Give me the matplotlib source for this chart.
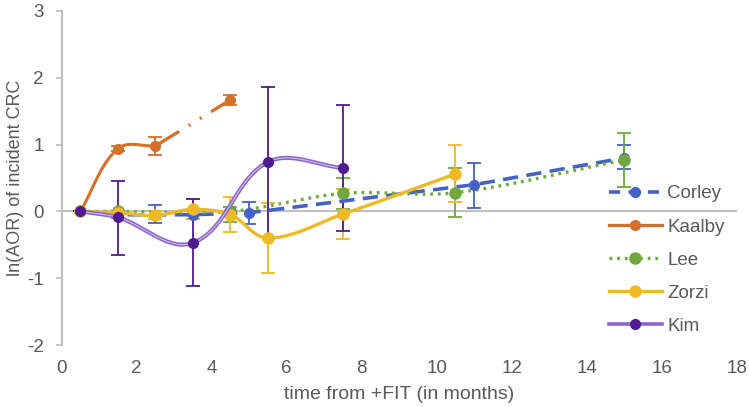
import matplotlib
matplotlib.use("Agg")
import matplotlib.pyplot as plt
import numpy as np
from matplotlib.lines import Line2D

# data
corley_x = [0.5, 1.5, 2.5, 3.5, 5.0, 11.0, 15.0]
corley_y = [0.0, -0.05, -0.05, -0.05, -0.02, 0.40, 0.80]
corley_lo = [0.0, 0.05, 0.13, 0.07, 0.17, 0.35, 0.17]
corley_hi = [0.0, 0.05, 0.14, 0.07, 0.16, 0.33, 0.19]

kaalby_x = [0.5, 1.5, 2.5, 4.5]
kaalby_y = [0.0, 0.94, 0.98, 1.67]
kaalby_lo = [0.0, 0.04, 0.14, 0.07]
kaalby_hi = [0.0, 0.04, 0.14, 0.07]

lee_x = [0.5, 1.5, 4.5, 7.5, 10.5, 15.0]
lee_y = [0.0, 0.0, 0.0, 0.27, 0.28, 0.77]
lee_lo = [0.0, 0.0, 0.16, 0.23, 0.37, 0.40]
lee_hi = [0.0, 0.0, 0.07, 0.23, 0.37, 0.41]

zorzi_x = [0.5, 1.5, 2.5, 3.5, 4.5, 5.5, 7.5, 10.5]
zorzi_y = [0.0, -0.02, -0.06, 0.03, -0.05, -0.40, -0.04, 0.56]
zorzi_lo = [0.0, 0.0, 0.06, 0.15, 0.26, 0.52, 0.38, 0.42]
zorzi_hi = [0.0, 0.0, 0.06, 0.15, 0.27, 0.52, 0.38, 0.43]

kim_x = [0.5, 1.5, 3.5, 5.5, 7.5]
kim_y = [0.0, -0.09, -0.47, 0.74, 0.65]
kim_lo = [0.0, 0.56, 0.64, 1.12, 0.95]
kim_hi = [0.0, 0.55, 0.65, 1.12, 0.95]

x_ticks = [0, 2, 4, 6, 8, 10, 12, 14, 16, 18]
y_ticks = [-2, -1, 0, 1, 2, 3]

BLUE = "#4562c6"
ORANGE = "#d2702c"
GREEN = "#70a83c"
YELLOW = "#efb925"
PURPLE = "#4f1c8f"
KIM_LINE = "#8d67c8"
KIM_INNER = "#cdb9ea"
GRID = "#bfbfbf"
TEXT = "#595959"

plt.rcParams["font.family"] = ["Liberation Sans", "DejaVu Sans"]
plt.rcParams["lines.scale_dashes"] = False
plt.rcParams["axes.unicode_minus"] = False

# pixels per data unit, used so the smoothing works in screen space
X_SCALE = 37.5
Y_SCALE = 66.8


def smooth(xs, ys, n=40):
    # smoothed line: cubic bezier, tangent along neighbours, handles sized by segment length
    p = np.column_stack([np.array(xs) * X_SCALE, np.array(ys) * Y_SCALE]).astype(float)
    pts = np.vstack([p[0], p, p[-1]])
    out = []
    t = np.linspace(0, 1, n)[:, None]
    for i in range(1, len(pts) - 2):
        p0, p1, p2, p3 = pts[i - 1], pts[i], pts[i + 1], pts[i + 2]
        seg_len = np.linalg.norm(p2 - p1)
        d1 = p2 - p0
        d2 = p3 - p1
        d1 = d1 / np.linalg.norm(d1)
        d2 = d2 / np.linalg.norm(d2)
        c1 = p1 + d1 * seg_len / 3
        c2 = p2 - d2 * seg_len / 3
        seg = ((1 - t) ** 3) * p1 + 3 * ((1 - t) ** 2) * t * c1 + 3 * (1 - t) * t ** 2 * c2 + t ** 3 * p2
        out.append(seg)
    curve = np.vstack(out)
    return curve[:, 0] / X_SCALE, curve[:, 1] / Y_SCALE


def draw_errors(ax, xs, ys, lo, hi, color):
    ax.errorbar(xs, ys, yerr=[lo, hi], fmt="none", ecolor=color,
                elinewidth=1.3, capsize=5, capthick=1.3, zorder=3)


fig = plt.figure(figsize=(7.49, 4.07), dpi=100)
ax = fig.add_axes([0.0824, 0.1523, 0.9012, 0.8207])

ax.plot([0, 18], [0, 0], color=GRID, lw=1.5, zorder=1)

# Corley
draw_errors(ax, corley_x, corley_y, corley_lo, corley_hi, BLUE)
ax.plot(corley_x, corley_y, color=BLUE, lw=2.6, dashes=(11, 6), zorder=4)
ax.plot(corley_x, corley_y, "o", color=BLUE, ms=7, zorder=5)

# Kaalby
draw_errors(ax, kaalby_x, kaalby_y, kaalby_lo, kaalby_hi, ORANGE)
sx, sy = smooth(kaalby_x[:3], kaalby_y[:3])
ax.plot(sx, sy, color=ORANGE, lw=2.2, zorder=4)
ax.plot(kaalby_x[2:], kaalby_y[2:], color=ORANGE, lw=2.4,
        dashes=(20, 8, 1.5, 8, 1.5, 8, 40, 10), zorder=4)
ax.plot(kaalby_x, kaalby_y, "o", color=ORANGE, ms=7, zorder=5)

# Lee
draw_errors(ax, lee_x, lee_y, lee_lo, lee_hi, GREEN)
sx, sy = smooth(lee_x, lee_y)
ax.plot(sx, sy, color=GREEN, lw=2.4, dashes=(2, 3.5), zorder=4)
ax.plot(lee_x, lee_y, "o", color=GREEN, ms=8, zorder=5)

# Zorzi
draw_errors(ax, zorzi_x, zorzi_y, zorzi_lo, zorzi_hi, YELLOW)
sx, sy = smooth(zorzi_x, zorzi_y)
ax.plot(sx, sy, color=YELLOW, lw=2.4, zorder=6)
ax.plot(zorzi_x, zorzi_y, "o", color=YELLOW, ms=8, zorder=6)

# Kim
draw_errors(ax, kim_x, kim_y, kim_lo, kim_hi, PURPLE)
sx, sy = smooth(kim_x, kim_y)
ax.plot(sx, sy, color=KIM_LINE, lw=3.0, zorder=7)
ax.plot(sx, sy, color=KIM_INNER, lw=0.8, zorder=7)
ax.plot(kim_x, kim_y, "o", color=PURPLE, ms=7, zorder=8)

ax.set_xlim(0, 18)
ax.set_ylim(-2, 3)
ax.set_xticks(x_ticks)
ax.set_yticks(y_ticks)
for s in ["top", "right", "bottom"]:
    ax.spines[s].set_visible(False)
ax.spines["left"].set_color(GRID)
ax.spines["left"].set_linewidth(1.5)
ax.tick_params(axis="y", colors=GRID, length=4, width=1.2, pad=9,
               labelcolor=TEXT, labelsize=13.5)
ax.tick_params(axis="x", length=0, pad=11, labelcolor=TEXT, labelsize=13.5)

ax.set_xlabel("time from +FIT (in months)", fontsize=14, color=TEXT, labelpad=6)
ax.set_ylabel("ln(AOR) of incident CRC", fontsize=13, color=TEXT, labelpad=2)

handles = [
    Line2D([], [], color=BLUE, lw=2.6, dashes=(8, 6), marker="o", ms=7),
    Line2D([], [], color=ORANGE, lw=2.4, marker="o", ms=7),
    Line2D([], [], color=GREEN, lw=2.4, dashes=(2, 3.5), marker="o", ms=8),
    Line2D([], [], color=YELLOW, lw=2.4, marker="o", ms=8),
    Line2D([], [], color=KIM_LINE, lw=2.6, marker="o", ms=7,
           markerfacecolor=PURPLE, markeredgecolor=PURPLE),
]
labels = ["Corley", "Kaalby", "Lee", "Zorzi", "Kim"]
leg = ax.legend(handles, labels, loc="upper left", bbox_to_anchor=(0.811, 0.478),
                frameon=False, fontsize=13.5, handlelength=2.8, handletextpad=0.3,
                labelspacing=0.85, borderaxespad=0, borderpad=0)
for t in leg.get_texts():
    t.set_color(TEXT)

fig.savefig("out.png", dpi=100)
